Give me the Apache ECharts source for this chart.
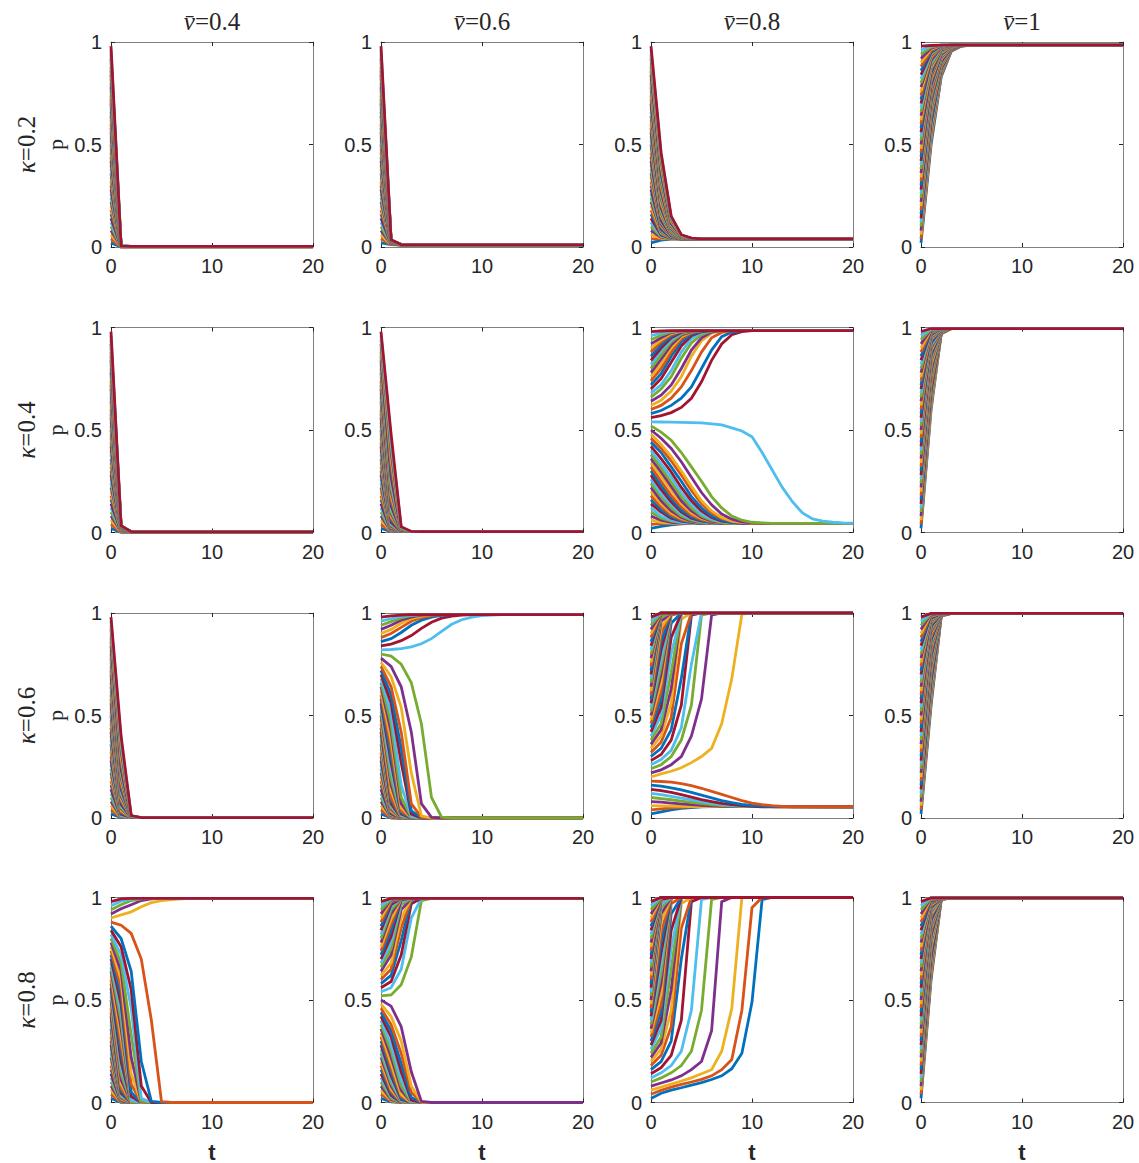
<!DOCTYPE html>
<html>
<head>
<meta charset="utf-8">
<title>p(t) runs for kappa and v-bar</title>
<script src="https://cdn.jsdelivr.net/npm/echarts@6/dist/echarts.min.js"></script>
<style>
html, body { margin: 0; padding: 0; background: #fff; }
#chart { width: 1139px; height: 1163px; }
</style>
</head>
<body>
<div id="chart"></div>
<script>
// panel columns / rows
const vbar = ['0.4', '0.6', '0.8', '1'];
const kappa = ['0.2', '0.4', '0.6', '0.8'];
const xTicks = [0, 10, 20];
const yTicks = [0, 0.5, 1];
const tEnd = 20;

// every run: p at t = 0, 1, 2, ...  (the last value holds until t = 20)
// runs are listed from the lowest start (0.02) to the highest (0.98)
const runs_k02_v04 = [
  [0.02,0.001],[0.04,0.001],[0.06,0.001],[0.08,0.001],[0.10,0.001],[0.12,0.002],[0.14,0.002],
  [0.16,0.002],[0.18,0.002],[0.20,0.002],[0.22,0.002],[0.24,0.002],[0.26,0.002],[0.28,0.002],
  [0.30,0.002],[0.32,0.002],[0.34,0.002],[0.36,0.002],[0.38,0.002],[0.40,0.002],[0.42,0.003],
  [0.44,0.003],[0.46,0.003],[0.48,0.003],[0.50,0.003],[0.52,0.003],[0.54,0.003],[0.56,0.003],
  [0.58,0.003],[0.60,0.003],[0.62,0.003],[0.64,0.003],[0.66,0.003],[0.68,0.003],[0.70,0.003],
  [0.72,0.003],[0.74,0.003],[0.76,0.003],[0.78,0.003],[0.80,0.003],[0.82,0.004,0.003],
  [0.84,0.004,0.003],[0.86,0.004,0.003],[0.88,0.004,0.003],[0.90,0.004,0.003],[0.92,0.005,0.003],
  [0.94,0.005,0.003],[0.96,0.005,0.003],[0.98,0.005,0.003]
];
const runs_k02_v06 = [
  [0.02,0.012,0.01],[0.04,0.012,0.01],[0.06,0.012,0.01],[0.08,0.013,0.01],[0.10,0.013,0.01],
  [0.12,0.013,0.01],[0.14,0.014,0.01],[0.16,0.014,0.01],[0.18,0.015,0.01],[0.20,0.015,0.01],
  [0.22,0.015,0.01],[0.24,0.016,0.01],[0.26,0.017,0.01],[0.28,0.017,0.01],[0.30,0.018,0.01],
  [0.32,0.018,0.01],[0.34,0.019,0.01],[0.36,0.019,0.01],[0.38,0.02,0.01],[0.40,0.02,0.01],
  [0.42,0.02,0.01],[0.44,0.021,0.01],[0.46,0.021,0.01],[0.48,0.022,0.01],[0.50,0.022,0.011,0.01],
  [0.52,0.023,0.011,0.01],[0.54,0.023,0.011,0.01],[0.56,0.024,0.011,0.01],[0.58,0.024,0.011,0.01],
  [0.60,0.025,0.011,0.01],[0.62,0.025,0.011,0.01],[0.64,0.026,0.011,0.01],[0.66,0.026,0.011,0.01],
  [0.68,0.027,0.011,0.01],[0.70,0.027,0.011,0.01],[0.72,0.028,0.011,0.01],[0.74,0.028,0.011,0.01],
  [0.76,0.029,0.011,0.01],[0.78,0.029,0.011,0.01],[0.80,0.03,0.012,0.01],[0.82,0.03,0.012,0.01],
  [0.84,0.031,0.012,0.01],[0.86,0.031,0.012,0.01],[0.88,0.032,0.012,0.01],[0.90,0.032,0.012,0.01],
  [0.92,0.033,0.012,0.01],[0.94,0.034,0.012,0.01],[0.96,0.034,0.012,0.01],[0.98,0.035,0.012,0.01]
];
const runs_k02_v08 = [
  [0.02,0.034,0.038,0.04],[0.04,0.04],[0.06,0.043,0.04],[0.08,0.047,0.041,0.04],
  [0.10,0.05,0.041,0.04],[0.12,0.054,0.042,0.04],[0.14,0.058,0.042,0.04],[0.16,0.062,0.043,0.04],
  [0.18,0.066,0.043,0.04],[0.20,0.07,0.044,0.04],[0.22,0.074,0.045,0.04],[0.24,0.078,0.045,0.04],
  [0.26,0.082,0.046,0.04],[0.28,0.086,0.047,0.04],[0.30,0.09,0.048,0.04],[0.32,0.10,0.05,0.041,0.04],
  [0.34,0.105,0.051,0.041,0.04],[0.36,0.11,0.052,0.041,0.04],[0.38,0.12,0.054,0.042,0.04],
  [0.40,0.125,0.055,0.042,0.04],[0.42,0.13,0.056,0.042,0.04],[0.44,0.14,0.058,0.042,0.04],
  [0.46,0.15,0.06,0.043,0.04],[0.48,0.155,0.06,0.043,0.04],[0.50,0.165,0.062,0.043,0.04],
  [0.52,0.17,0.064,0.043,0.04],[0.54,0.18,0.066,0.044,0.04],[0.56,0.19,0.068,0.044,0.04],
  [0.58,0.20,0.07,0.044,0.04],[0.60,0.21,0.072,0.045,0.04],[0.62,0.22,0.074,0.045,0.04],
  [0.64,0.235,0.077,0.046,0.04],[0.66,0.245,0.08,0.046,0.04],[0.68,0.26,0.085,0.047,0.04],
  [0.70,0.27,0.088,0.047,0.04],[0.72,0.28,0.09,0.048,0.04],[0.74,0.29,0.093,0.048,0.04],
  [0.76,0.305,0.095,0.049,0.04],[0.78,0.32,0.10,0.05,0.04],[0.80,0.33,0.105,0.05,0.041,0.04],
  [0.82,0.345,0.11,0.051,0.041,0.04],[0.84,0.36,0.115,0.052,0.041,0.04],[0.86,0.37,0.12,0.053,0.041,0.04],
  [0.88,0.39,0.125,0.054,0.041,0.04],[0.90,0.40,0.13,0.055,0.042,0.04],[0.92,0.42,0.135,0.056,0.042,0.04],
  [0.94,0.43,0.14,0.057,0.042,0.04],[0.96,0.45,0.145,0.058,0.042,0.04],[0.98,0.46,0.15,0.06,0.043,0.04]
];
const runs_k02_v10 = [
  [0.02,0.50,0.83,0.955,0.98,0.985],[0.04,0.52,0.84,0.957,0.98,0.985],[0.06,0.54,0.85,0.96,0.98,0.985],
  [0.08,0.56,0.855,0.96,0.981,0.985],[0.10,0.58,0.86,0.962,0.981,0.985],[0.12,0.59,0.865,0.963,0.982,0.985],
  [0.14,0.61,0.87,0.964,0.982,0.985],[0.16,0.62,0.875,0.965,0.982,0.985],[0.18,0.64,0.88,0.966,0.983,0.985],
  [0.20,0.66,0.885,0.967,0.983,0.985],[0.22,0.67,0.89,0.968,0.983,0.985],[0.24,0.68,0.895,0.969,0.983,0.985],
  [0.26,0.695,0.90,0.97,0.984,0.985],[0.28,0.71,0.905,0.97,0.984,0.985],[0.30,0.72,0.91,0.972,0.984,0.985],
  [0.32,0.73,0.915,0.973,0.985],[0.34,0.745,0.92,0.974,0.985],[0.36,0.755,0.925,0.975,0.985],
  [0.38,0.77,0.93,0.976,0.985],[0.40,0.78,0.935,0.977,0.985],[0.42,0.79,0.94,0.978,0.985],
  [0.44,0.80,0.943,0.978,0.985],[0.46,0.81,0.946,0.979,0.985],[0.48,0.82,0.95,0.979,0.985],
  [0.50,0.83,0.953,0.98,0.985],[0.52,0.84,0.955,0.98,0.985],[0.54,0.845,0.957,0.98,0.985],
  [0.56,0.85,0.96,0.981,0.985],[0.58,0.86,0.962,0.981,0.985],[0.60,0.87,0.964,0.982,0.985],
  [0.62,0.875,0.966,0.982,0.985],[0.64,0.885,0.968,0.983,0.985],[0.66,0.89,0.97,0.983,0.985],
  [0.68,0.90,0.972,0.984,0.985],[0.70,0.91,0.974,0.984,0.985],[0.72,0.915,0.975,0.985],
  [0.74,0.92,0.976,0.985],[0.76,0.93,0.977,0.985],[0.78,0.935,0.978,0.985],[0.80,0.94,0.979,0.985],
  [0.82,0.945,0.98,0.985],[0.84,0.95,0.981,0.985],[0.86,0.955,0.982,0.985],[0.88,0.96,0.983,0.985],
  [0.90,0.965,0.984,0.985],[0.92,0.97,0.985],[0.94,0.975,0.985],[0.96,0.98,0.985],[0.98,0.983,0.985]
];
const runs_k04_v04 = [
  [0.02,0.001],[0.04,0.001],[0.06,0.002],[0.08,0.003],[0.10,0.004,0.003],[0.12,0.004,0.003],
  [0.14,0.005,0.003],[0.16,0.005,0.003],[0.18,0.006,0.003],[0.20,0.007,0.003],[0.22,0.008,0.003],
  [0.24,0.008,0.003],[0.26,0.009,0.003],[0.28,0.01,0.003],[0.30,0.01,0.003],[0.32,0.011,0.003],
  [0.34,0.012,0.003],[0.36,0.012,0.003],[0.38,0.013,0.003],[0.40,0.014,0.003],[0.42,0.014,0.003],
  [0.44,0.015,0.003],[0.46,0.016,0.003],[0.48,0.016,0.003],[0.50,0.017,0.003],[0.52,0.018,0.003],
  [0.54,0.018,0.003],[0.56,0.019,0.003],[0.58,0.02,0.003],[0.60,0.02,0.003],[0.62,0.021,0.003],
  [0.64,0.022,0.003],[0.66,0.022,0.003],[0.68,0.023,0.003],[0.70,0.024,0.003],[0.72,0.024,0.003],
  [0.74,0.025,0.003],[0.76,0.026,0.003],[0.78,0.026,0.003],[0.80,0.027,0.003],[0.82,0.028,0.003],
  [0.84,0.029,0.003],[0.86,0.029,0.004,0.003],[0.88,0.03,0.004,0.003],[0.90,0.03,0.004,0.003],
  [0.92,0.031,0.004,0.003],[0.94,0.032,0.004,0.003],[0.96,0.033,0.004,0.003],[0.98,0.033,0.004,0.003]
];
const runs_k04_v06 = [
  [0.02,0.004],[0.04,0.004],[0.06,0.004],[0.08,0.004],[0.10,0.004],[0.12,0.004],[0.14,0.004],
  [0.16,0.005,0.004],[0.18,0.005,0.004],[0.20,0.006,0.004],[0.22,0.006,0.004],[0.24,0.007,0.004],
  [0.26,0.008,0.004],[0.28,0.009,0.004],[0.30,0.01,0.004],[0.32,0.011,0.004],[0.34,0.012,0.004],
  [0.36,0.013,0.004],[0.38,0.015,0.004],[0.40,0.017,0.004],[0.42,0.019,0.004],[0.44,0.021,0.004],
  [0.46,0.024,0.004],[0.48,0.027,0.004],[0.50,0.03,0.004],[0.52,0.036,0.004],[0.54,0.042,0.004],
  [0.56,0.05,0.004],[0.58,0.06,0.004],[0.60,0.07,0.005,0.004],[0.62,0.08,0.005,0.004],
  [0.64,0.09,0.005,0.004],[0.66,0.10,0.005,0.004],[0.68,0.115,0.006,0.004],[0.70,0.13,0.006,0.004],
  [0.72,0.145,0.007,0.004],[0.74,0.16,0.007,0.004],[0.76,0.18,0.008,0.004],[0.78,0.20,0.008,0.004],
  [0.80,0.22,0.009,0.004],[0.82,0.245,0.01,0.004],[0.84,0.27,0.011,0.004],[0.86,0.30,0.012,0.004],
  [0.88,0.33,0.014,0.004],[0.90,0.36,0.016,0.004],[0.92,0.39,0.018,0.004],[0.94,0.42,0.02,0.004],
  [0.96,0.45,0.024,0.005,0.004],[0.98,0.48,0.028,0.005,0.004]
];
const runs_k04_v08 = [
  [0.02,0.03,0.037,0.042,0.045],[0.04,0.043,0.045],[0.06,0.05,0.046,0.045],[0.08,0.06,0.05,0.046,0.045],
  [0.10,0.07,0.055,0.049,0.045],[0.12,0.08,0.06,0.05,0.046,0.045],[0.14,0.10,0.07,0.055,0.049,0.045],
  [0.16,0.11,0.077,0.058,0.05,0.046,0.045],[0.18,0.125,0.085,0.063,0.052,0.047,0.045],
  [0.20,0.14,0.095,0.068,0.054,0.048,0.045],[0.22,0.155,0.105,0.073,0.056,0.049,0.045],
  [0.24,0.175,0.12,0.08,0.06,0.05,0.046,0.045],[0.26,0.19,0.135,0.09,0.065,0.052,0.047,0.045],
  [0.28,0.21,0.15,0.10,0.07,0.055,0.049,0.045],[0.30,0.23,0.165,0.11,0.077,0.058,0.05,0.046,0.045],
  [0.32,0.25,0.18,0.125,0.085,0.063,0.052,0.047,0.045],[0.34,0.275,0.205,0.14,0.095,0.068,0.054,0.048,0.045],
  [0.36,0.295,0.225,0.155,0.105,0.073,0.056,0.049,0.045],[0.38,0.315,0.245,0.175,0.12,0.08,0.06,0.05,0.046,0.045],
  [0.40,0.335,0.27,0.195,0.135,0.09,0.065,0.052,0.047,0.045],
  [0.42,0.36,0.295,0.22,0.155,0.105,0.073,0.056,0.049,0.045],
  [0.44,0.39,0.32,0.25,0.175,0.12,0.08,0.06,0.05,0.046,0.045],
  [0.46,0.41,0.35,0.28,0.205,0.14,0.095,0.068,0.054,0.048,0.045],
  [0.48,0.43,0.37,0.30,0.225,0.155,0.105,0.073,0.056,0.049,0.046,0.045],
  [0.50,0.46,0.41,0.345,0.27,0.195,0.135,0.09,0.065,0.052,0.047,0.045],
  [0.52,0.49,0.45,0.39,0.32,0.25,0.175,0.12,0.08,0.06,0.05,0.047,0.045],
  [0.54,0.539,0.538,0.537,0.536,0.535,0.53,0.525,0.51,0.495,0.467,0.39,0.305,0.22,0.15,0.095,0.066,0.055,0.05,0.047,0.046],
  [0.56,0.57,0.585,0.61,0.655,0.735,0.84,0.92,0.965,0.98,0.985],
  [0.58,0.595,0.62,0.655,0.71,0.80,0.89,0.955,0.978,0.985],
  [0.60,0.62,0.655,0.71,0.79,0.88,0.95,0.976,0.985],
  [0.62,0.645,0.69,0.76,0.86,0.935,0.972,0.985],
  [0.64,0.67,0.72,0.80,0.89,0.95,0.978,0.985],
  [0.66,0.70,0.76,0.85,0.925,0.965,0.982,0.985],
  [0.68,0.72,0.79,0.88,0.945,0.975,0.985],
  [0.70,0.75,0.83,0.91,0.96,0.98,0.985],
  [0.72,0.775,0.86,0.93,0.968,0.982,0.985],
  [0.74,0.80,0.88,0.945,0.975,0.985],
  [0.76,0.825,0.90,0.955,0.978,0.985],
  [0.78,0.845,0.915,0.962,0.98,0.985],
  [0.80,0.865,0.93,0.968,0.982,0.985],
  [0.82,0.885,0.94,0.972,0.985],[0.84,0.90,0.95,0.976,0.985],[0.86,0.915,0.958,0.979,0.985],
  [0.88,0.93,0.965,0.981,0.985],[0.90,0.94,0.97,0.983,0.985],[0.92,0.95,0.975,0.985],
  [0.94,0.962,0.979,0.985],[0.96,0.972,0.983,0.985],[0.98,0.983,0.985]
];
const runs_k04_v10 = [
  [0.02,0.60,0.97,0.995],[0.04,0.62,0.97,0.995],[0.06,0.63,0.97,0.995],[0.08,0.65,0.972,0.995],
  [0.10,0.66,0.972,0.995],[0.12,0.68,0.974,0.995],[0.14,0.69,0.974,0.995],[0.16,0.71,0.976,0.995],
  [0.18,0.72,0.976,0.995],[0.20,0.74,0.978,0.995],[0.22,0.75,0.978,0.995],[0.24,0.76,0.98,0.995],
  [0.26,0.78,0.98,0.995],[0.28,0.79,0.982,0.995],[0.30,0.80,0.982,0.995],[0.32,0.81,0.984,0.995],
  [0.34,0.82,0.984,0.995],[0.36,0.835,0.985,0.995],[0.38,0.845,0.986,0.995],[0.40,0.855,0.987,0.995],
  [0.42,0.865,0.988,0.995],[0.44,0.875,0.988,0.995],[0.46,0.885,0.989,0.995],[0.48,0.89,0.99,0.995],
  [0.50,0.90,0.99,0.995],[0.52,0.91,0.991,0.995],[0.54,0.915,0.991,0.995],[0.56,0.925,0.992,0.995],
  [0.58,0.93,0.992,0.995],[0.60,0.94,0.993,0.995],[0.62,0.945,0.993,0.995],[0.64,0.95,0.994,0.995],
  [0.66,0.955,0.994,0.995],[0.68,0.96,0.994,0.995],[0.70,0.965,0.995],[0.72,0.97,0.995],
  [0.74,0.973,0.995],[0.76,0.976,0.995],[0.78,0.979,0.995],[0.80,0.982,0.995],[0.82,0.984,0.995],
  [0.84,0.986,0.995],[0.86,0.988,0.995],[0.88,0.99,0.995],[0.90,0.991,0.995],[0.92,0.992,0.995],
  [0.94,0.993,0.995],[0.96,0.994,0.995],[0.98,0.995]
];
const runs_k06_v04 = [
  [0.02,0.002],[0.04,0.002],[0.06,0.002],[0.08,0.002],[0.10,0.002],[0.12,0.002],[0.14,0.002],
  [0.16,0.002],[0.18,0.003,0.002],[0.20,0.003,0.002],[0.22,0.003,0.002],[0.24,0.003,0.002],
  [0.26,0.004,0.002],[0.28,0.004,0.002],[0.30,0.005,0.002],[0.32,0.006,0.002],[0.34,0.007,0.002],
  [0.36,0.009,0.002],[0.38,0.01,0.002],[0.40,0.012,0.002],[0.42,0.018,0.002],[0.44,0.024,0.002],
  [0.46,0.03,0.002],[0.48,0.037,0.002],[0.50,0.045,0.002],[0.52,0.05,0.002],[0.54,0.058,0.002],
  [0.56,0.066,0.002],[0.58,0.075,0.002],[0.60,0.085,0.002],[0.62,0.095,0.002],[0.64,0.105,0.002],
  [0.66,0.116,0.003,0.002],[0.68,0.128,0.003,0.002],[0.70,0.14,0.003,0.002],[0.72,0.15,0.003,0.002],
  [0.74,0.165,0.003,0.002],[0.76,0.18,0.003,0.002],[0.78,0.195,0.003,0.002],[0.80,0.21,0.003,0.002],
  [0.82,0.225,0.004,0.002],[0.84,0.24,0.004,0.002],[0.86,0.26,0.005,0.002],[0.88,0.28,0.006,0.002],
  [0.90,0.30,0.007,0.002],[0.92,0.325,0.008,0.002],[0.94,0.35,0.009,0.002],[0.96,0.375,0.01,0.002],
  [0.98,0.40,0.012,0.002]
];
const runs_k06_v06 = [
  [0.02,0.001,0],[0.04,0.001,0],[0.06,0.002,0],[0.08,0.002,0],[0.10,0.003,0],[0.12,0.004,0],
  [0.14,0.005,0],[0.16,0.007,0],[0.18,0.008,0],[0.20,0.01,0],[0.22,0.012,0],[0.24,0.015,0],
  [0.26,0.018,0],[0.28,0.021,0],[0.30,0.025,0],[0.32,0.03,0],[0.34,0.035,0],[0.36,0.042,0],
  [0.38,0.05,0.001,0],[0.40,0.06,0.002,0],[0.42,0.07,0.002,0],[0.44,0.085,0.003,0],[0.46,0.10,0.004,0],
  [0.48,0.13,0.005,0],[0.50,0.16,0.007,0],[0.52,0.19,0.01,0],[0.54,0.23,0.013,0],[0.56,0.27,0.02,0],
  [0.58,0.30,0.025,0],[0.60,0.34,0.035,0.001,0],[0.62,0.38,0.05,0.002,0],[0.64,0.42,0.07,0.003,0],
  [0.66,0.46,0.10,0.004,0],[0.68,0.51,0.16,0.008,0],[0.70,0.56,0.27,0.02,0],[0.72,0.60,0.34,0.035,0.001,0],
  [0.74,0.64,0.42,0.07,0.003,0],[0.76,0.69,0.54,0.22,0.011,0],[0.78,0.74,0.64,0.42,0.07,0.003,0],
  [0.80,0.79,0.75,0.66,0.46,0.10,0.004,0],
  [0.82,0.822,0.826,0.835,0.85,0.875,0.91,0.945,0.967,0.98,0.987,0.99,0.992],
  [0.84,0.848,0.865,0.89,0.925,0.955,0.975,0.985,0.99,0.992],
  [0.86,0.875,0.905,0.94,0.965,0.98,0.988,0.992],[0.88,0.90,0.93,0.96,0.978,0.987,0.992],
  [0.90,0.92,0.95,0.972,0.985,0.992],[0.92,0.94,0.965,0.98,0.99,0.992],[0.94,0.958,0.976,0.987,0.992],
  [0.96,0.972,0.984,0.99,0.992],[0.98,0.986,0.99,0.992]
];
const runs_k06_v08 = [
  [0.02,0.03,0.04,0.047,0.051,0.054,0.055],[0.04,0.045,0.049,0.052,0.054,0.055],
  [0.06,0.059,0.058,0.057,0.056,0.055],[0.08,0.077,0.073,0.069,0.065,0.062,0.059,0.057,0.056,0.055],
  [0.10,0.095,0.089,0.082,0.076,0.07,0.065,0.061,0.058,0.056,0.055],
  [0.12,0.114,0.106,0.097,0.088,0.08,0.072,0.066,0.061,0.058,0.056,0.055],
  [0.14,0.134,0.125,0.114,0.102,0.09,0.08,0.071,0.065,0.06,0.057,0.055],
  [0.16,0.155,0.147,0.137,0.125,0.112,0.098,0.085,0.075,0.067,0.061,0.058,0.056,0.055],
  [0.18,0.178,0.175,0.168,0.158,0.145,0.13,0.115,0.10,0.085,0.073,0.065,0.06,0.057,0.055],
  [0.20,0.215,0.228,0.245,0.27,0.30,0.34,0.46,0.68,0.995,1],
  [0.22,0.235,0.26,0.30,0.40,0.58,0.99,1],[0.24,0.26,0.30,0.38,0.55,0.99,1],[0.26,0.285,0.33,0.44,0.75,1],
  [0.28,0.31,0.38,0.55,0.99,1],[0.30,0.34,0.43,0.68,1],[0.32,0.37,0.49,0.85,1],[0.34,0.40,0.56,0.97,1],
  [0.36,0.43,0.63,1],[0.38,0.46,0.71,1],[0.40,0.50,0.80,1],[0.42,0.54,0.88,1],[0.44,0.58,0.95,1],
  [0.46,0.62,0.99,1],[0.48,0.66,1],[0.50,0.70,1],[0.52,0.74,1],[0.54,0.78,1],[0.56,0.82,1],
  [0.58,0.86,1],[0.60,0.90,1],[0.62,0.93,1],[0.64,0.96,1],[0.66,0.98,1],[0.68,1],[0.70,1],[0.72,1],
  [0.74,1],[0.76,1],[0.78,1],[0.80,1],[0.82,1],[0.84,1],[0.86,1],[0.88,1],[0.90,1],[0.92,1],
  [0.94,1],[0.96,1],[0.98,1]
];
const runs_k06_v10 = [
  [0.02,0.55,0.985,0.998],[0.04,0.57,0.986,0.998],[0.06,0.59,0.987,0.998],[0.08,0.61,0.988,0.998],
  [0.10,0.63,0.989,0.998],[0.12,0.65,0.99,0.998],[0.14,0.67,0.99,0.998],[0.16,0.69,0.991,0.998],
  [0.18,0.71,0.991,0.998],[0.20,0.73,0.992,0.998],[0.22,0.745,0.992,0.998],[0.24,0.76,0.993,0.998],
  [0.26,0.775,0.993,0.998],[0.28,0.79,0.994,0.998],[0.30,0.80,0.994,0.998],[0.32,0.815,0.995,0.998],
  [0.34,0.83,0.995,0.998],[0.36,0.84,0.996,0.998],[0.38,0.85,0.996,0.998],[0.40,0.86,0.996,0.998],
  [0.42,0.87,0.997,0.998],[0.44,0.88,0.997,0.998],[0.46,0.89,0.997,0.998],[0.48,0.90,0.998],
  [0.50,0.91,0.998],[0.52,0.92,0.998],[0.54,0.93,0.998],[0.56,0.935,0.998],[0.58,0.94,0.998],
  [0.60,0.95,0.998],[0.62,0.955,0.998],[0.64,0.96,0.998],[0.66,0.965,0.998],[0.68,0.97,0.998],
  [0.70,0.975,0.998],[0.72,0.98,0.998],[0.74,0.983,0.998],[0.76,0.986,0.998],[0.78,0.988,0.998],
  [0.80,0.99,0.998],[0.82,0.992,0.998],[0.84,0.994,0.998],[0.86,0.995,0.998],[0.88,0.996,0.998],
  [0.90,0.997,0.998],[0.92,0.998],[0.94,0.998],[0.96,0.998],[0.98,0.998]
];
const runs_k08_v04 = [
  [0.02,0.001,0],[0.04,0.001,0],[0.06,0.001,0],[0.08,0.001,0],[0.10,0.001,0],[0.12,0.002,0],
  [0.14,0.002,0],[0.16,0.002,0],[0.18,0.002,0],[0.20,0.003,0],[0.22,0.004,0],[0.24,0.005,0],
  [0.26,0.006,0],[0.28,0.008,0],[0.30,0.01,0],[0.32,0.013,0],[0.34,0.017,0],[0.36,0.022,0],
  [0.38,0.028,0],[0.40,0.035,0],[0.42,0.045,0],[0.44,0.055,0],[0.46,0.07,0],[0.48,0.09,0],
  [0.50,0.11,0],[0.52,0.14,0],[0.54,0.17,0],[0.56,0.20,0],[0.58,0.24,0],[0.60,0.28,0],
  [0.62,0.32,0.002,0],[0.64,0.36,0.003,0],[0.66,0.40,0.004,0],[0.68,0.44,0.01,0],[0.70,0.48,0.03,0],
  [0.72,0.52,0.05,0],[0.74,0.56,0.09,0],[0.76,0.60,0.14,0],[0.78,0.64,0.22,0.003,0],
  [0.80,0.68,0.33,0.006,0],[0.82,0.72,0.46,0.02,0],[0.84,0.76,0.55,0.08,0],
  [0.86,0.80,0.64,0.20,0.006,0],[0.88,0.865,0.825,0.70,0.40,0.004,0],
  [0.90,0.915,0.93,0.955,0.975,0.985,0.99,0.994,0.996],[0.92,0.945,0.965,0.985,0.993,0.996],
  [0.94,0.965,0.985,0.993,0.996],[0.96,0.982,0.992,0.996],[0.98,0.993,0.996]
];
const runs_k08_v06 = [
  [0.02,0.003,0],[0.04,0.006,0],[0.06,0.01,0],[0.08,0.015,0],[0.10,0.02,0],[0.12,0.028,0],
  [0.14,0.035,0],[0.16,0.045,0],[0.18,0.055,0.002,0],[0.20,0.065,0.003,0],[0.22,0.08,0.005,0],
  [0.24,0.095,0.007,0],[0.26,0.11,0.01,0],[0.28,0.13,0.015,0],[0.30,0.15,0.02,0],[0.32,0.17,0.03,0],
  [0.34,0.19,0.04,0],[0.36,0.22,0.06,0.002,0],[0.38,0.25,0.08,0.003,0],[0.40,0.28,0.11,0.006,0],
  [0.42,0.32,0.15,0.012,0],[0.44,0.35,0.19,0.025,0],[0.46,0.38,0.24,0.05,0],[0.48,0.42,0.30,0.08,0.002,0],
  [0.50,0.47,0.37,0.15,0.005,0],
  [0.52,0.525,0.575,0.71,0.985,0.996],[0.54,0.56,0.65,0.90,0.996],[0.56,0.59,0.72,0.97,0.996],
  [0.58,0.62,0.79,0.99,0.996],[0.60,0.65,0.85,0.995,0.996],[0.62,0.68,0.90,0.996],[0.64,0.72,0.94,0.996],
  [0.66,0.75,0.965,0.996],[0.68,0.78,0.98,0.996],[0.70,0.81,0.99,0.996],[0.72,0.84,0.993,0.996],
  [0.74,0.87,0.996],[0.76,0.895,0.996],[0.78,0.92,0.996],[0.80,0.94,0.996],[0.82,0.955,0.996],
  [0.84,0.965,0.996],[0.86,0.975,0.996],[0.88,0.982,0.996],[0.90,0.987,0.996],[0.92,0.99,0.996],
  [0.94,0.993,0.996],[0.96,0.995,0.996],[0.98,0.996]
];
const runs_k08_v08 = [
  [0.02,0.045,0.06,0.072,0.085,0.097,0.112,0.13,0.165,0.24,0.49,0.99,1],
  [0.04,0.06,0.075,0.088,0.10,0.113,0.13,0.16,0.21,0.45,0.95,1],
  [0.06,0.075,0.09,0.105,0.12,0.14,0.16,0.25,0.46,1],
  [0.08,0.095,0.11,0.13,0.16,0.20,0.35,0.98,1],
  [0.10,0.12,0.145,0.18,0.25,0.45,0.99,1],
  [0.12,0.145,0.18,0.25,0.45,0.99,1],
  [0.14,0.17,0.23,0.40,0.98,1],[0.16,0.20,0.30,0.70,1],[0.18,0.23,0.37,0.85,1],[0.20,0.26,0.45,0.97,1],
  [0.22,0.29,0.55,1],[0.24,0.32,0.65,1],[0.26,0.36,0.75,1],[0.28,0.40,0.84,1],[0.30,0.44,0.92,1],
  [0.32,0.48,0.97,1],[0.34,0.53,1],[0.36,0.58,1],[0.38,0.63,1],[0.40,0.68,1],[0.42,0.73,1],
  [0.44,0.78,1],[0.46,0.83,1],[0.48,0.88,1],[0.50,0.92,1],[0.52,0.95,1],[0.54,0.97,1],[0.56,0.99,1],
  [0.58,1],[0.60,1],[0.62,1],[0.64,1],[0.66,1],[0.68,1],[0.70,1],[0.72,1],[0.74,1],[0.76,1],
  [0.78,1],[0.80,1],[0.82,1],[0.84,1],[0.86,1],[0.88,1],[0.90,1],[0.92,1],[0.94,1],[0.96,1],[0.98,1]
];
const runs_k08_v10 = [
  [0.02,0.60,0.99,0.998],[0.04,0.62,0.99,0.998],[0.06,0.64,0.991,0.998],[0.08,0.66,0.991,0.998],
  [0.10,0.68,0.992,0.998],[0.12,0.70,0.992,0.998],[0.14,0.71,0.993,0.998],[0.16,0.73,0.993,0.998],
  [0.18,0.75,0.994,0.998],[0.20,0.76,0.994,0.998],[0.22,0.78,0.995,0.998],[0.24,0.79,0.995,0.998],
  [0.26,0.80,0.995,0.998],[0.28,0.815,0.996,0.998],[0.30,0.83,0.996,0.998],[0.32,0.84,0.996,0.998],
  [0.34,0.85,0.997,0.998],[0.36,0.86,0.997,0.998],[0.38,0.87,0.997,0.998],[0.40,0.88,0.997,0.998],
  [0.42,0.89,0.998],[0.44,0.90,0.998],[0.46,0.91,0.998],[0.48,0.92,0.998],[0.50,0.93,0.998],
  [0.52,0.935,0.998],[0.54,0.94,0.998],[0.56,0.95,0.998],[0.58,0.955,0.998],[0.60,0.96,0.998],
  [0.62,0.965,0.998],[0.64,0.97,0.998],[0.66,0.975,0.998],[0.68,0.978,0.998],[0.70,0.98,0.998],
  [0.72,0.983,0.998],[0.74,0.986,0.998],[0.76,0.988,0.998],[0.78,0.99,0.998],[0.80,0.992,0.998],
  [0.82,0.993,0.998],[0.84,0.994,0.998],[0.86,0.995,0.998],[0.88,0.996,0.998],[0.90,0.997,0.998],
  [0.92,0.998],[0.94,0.998],[0.96,0.998],[0.98,0.998]
];

const panels = [
  [runs_k02_v04, runs_k02_v06, runs_k02_v08, runs_k02_v10],
  [runs_k04_v04, runs_k04_v06, runs_k04_v08, runs_k04_v10],
  [runs_k06_v04, runs_k06_v06, runs_k06_v08, runs_k06_v10],
  [runs_k08_v04, runs_k08_v06, runs_k08_v08, runs_k08_v10]
];

// matlab default line colours
const colors = ['#0072BD', '#D95319', '#EDB120', '#7E2F8E', '#77AC30', '#4DBEEE', '#A2142F'];

const gridLeft = [111, 381, 651, 921];
const gridTop = [42, 327.5, 613, 897.5];
const gridW = 202;
const gridH = 205;
const axisColor = '#808080';
const textColor = '#262626';
const tickFont = 'Liberation Sans, Arial, Helvetica, sans-serif';
const serif = 'Liberation Serif, Times New Roman, serif';

const grids = [];
const xAxes = [];
const yAxes = [];
const series = [];

function axisBase (show) {
  return {
    axisLine: { show: true, onZero: false, lineStyle: { color: axisColor, width: 1 } },
    axisTick: { show: true, inside: true, length: 4, lineStyle: { color: textColor, width: 1 } },
    splitLine: { show: false },
    axisLabel: { show: show, color: textColor, fontSize: 20, fontFamily: tickFont, margin: 9 }
  };
}

for (let r = 0; r < 4; r++) {
  for (let c = 0; c < 4; c++) {
    const g = r * 4 + c;
    grids.push({ left: gridLeft[c], top: gridTop[r], width: gridW, height: gridH, containLabel: false });
    xAxes.push(Object.assign({ gridIndex: g, type: 'value', position: 'bottom', min: xTicks[0], max: xTicks[2], interval: 10 }, axisBase(true)));
    xAxes.push(Object.assign({ gridIndex: g, type: 'value', position: 'top', min: xTicks[0], max: xTicks[2], interval: 10 }, axisBase(false)));
    yAxes.push(Object.assign({ gridIndex: g, type: 'value', position: 'left', min: yTicks[0], max: yTicks[2], interval: 0.5 }, axisBase(true)));
    yAxes.push(Object.assign({ gridIndex: g, type: 'value', position: 'right', min: yTicks[0], max: yTicks[2], interval: 0.5 }, axisBase(false)));

    panels[r][c].forEach((run, i) => {
      const pts = run.map((p, t) => [t, p]);
      if (run.length - 1 < tEnd) pts.push([tEnd, run[run.length - 1]]);
      series.push({
        type: 'line',
        xAxisIndex: 2 * g,
        yAxisIndex: 2 * g,
        data: pts,
        symbol: 'none',
        clip: false,
        silent: true,
        lineStyle: { width: 2.8, color: colors[i % 7], cap: 'butt', join: 'miter' },
        z: 2
      });
    });
  }
}

// titles, row labels and axis names
const graphics = [];
const colCenter = gridLeft.map(l => l + gridW / 2);
const rowCenter = gridTop.map(t => t + gridH / 2);
const rich = {
  it: { fontFamily: serif, fontStyle: 'italic', fontSize: 25, fill: textColor },
  rm: { fontFamily: serif, fontSize: 25, fill: textColor }
};
vbar.forEach((v, c) => {
  graphics.push({
    type: 'text', x: colCenter[c], y: 21,
    style: { text: '{it|v\u0304}{rm|=' + v + '}', rich: rich, align: 'center', verticalAlign: 'middle' }
  });
  graphics.push({
    type: 'text', x: colCenter[c], y: 1152,
    style: { text: 't', font: 'bold 22px ' + tickFont, fill: textColor, align: 'center', verticalAlign: 'middle' }
  });
});
kappa.forEach((k, r) => {
  graphics.push({
    type: 'text', x: 26, y: rowCenter[r], rotation: Math.PI / 2,
    style: { text: '{it|\u03ba}{rm|=' + k + '}', rich: rich, align: 'center', verticalAlign: 'middle' }
  });
  graphics.push({
    type: 'text', x: 55, y: rowCenter[r], rotation: Math.PI / 2,
    style: { text: 'p', font: '22px ' + serif, fill: textColor, align: 'center', verticalAlign: 'middle' }
  });
});

const chart = echarts.init(document.getElementById('chart'), null, { renderer: 'svg' });
chart.setOption({
  animation: false,
  backgroundColor: '#fff',
  grid: grids,
  xAxis: xAxes,
  yAxis: yAxes,
  series: series,
  graphic: graphics
});
</script>
</body>
</html>
